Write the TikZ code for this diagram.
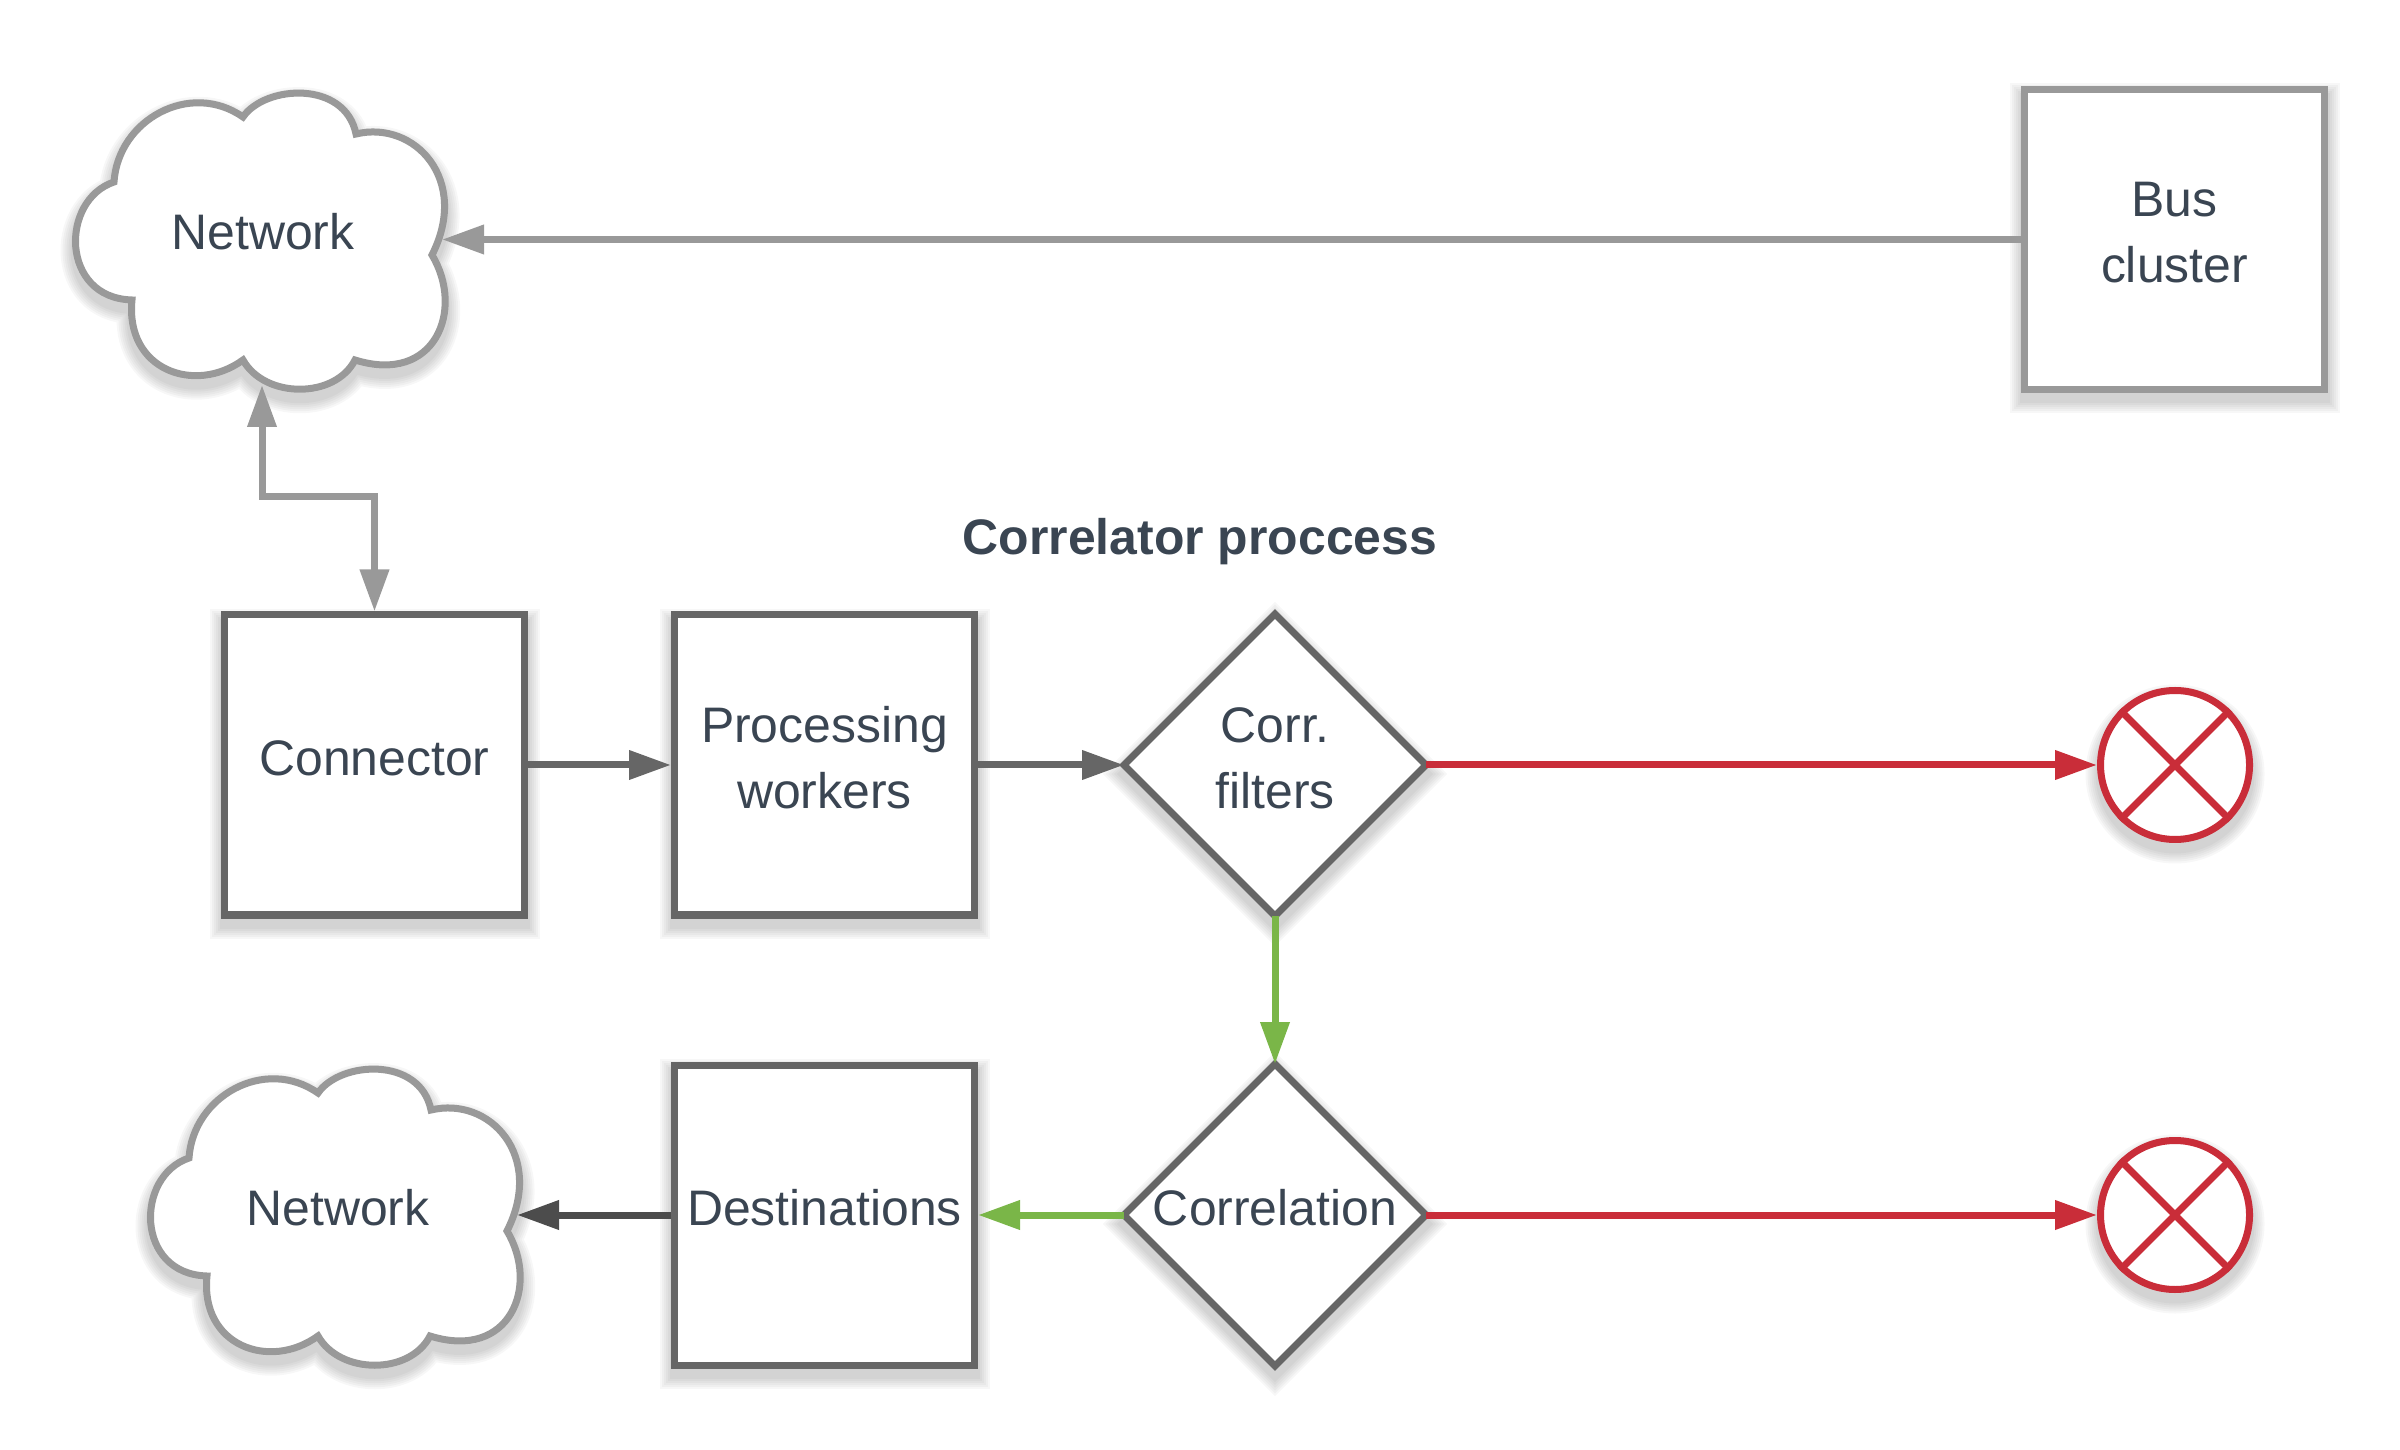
\documentclass[tikz,border=0pt]{standalone}
\usepackage{fontspec}
\setmainfont{Liberation Sans}
\usetikzlibrary{arrows.meta,shapes.geometric}
\definecolor{ink}{RGB}{58,69,82}
\definecolor{slate}{RGB}{102,102,102}
\definecolor{ash}{RGB}{153,153,153}
\definecolor{coal}{RGB}{76,76,76}
\definecolor{alarm}{RGB}{201,45,57}
\definecolor{pass}{RGB}{122,182,72}
\newcommand{\boxtext}[1]{\raisebox{.03cm}[\height][\depth]{\begin{tabular}{@{}c@{}}#1\end{tabular}}}
\newcommand{\slimtext}[1]{\makebox[0pt]{\boxtext{#1}}}
\tikzset{
  shadelayer/.style={preaction={draw=black,opacity=.03,line width=#1,transform canvas={yshift=-.09cm}}},
  softshadow/.style={shadelayer=.30cm,shadelayer=.26cm,shadelayer=.22cm,shadelayer=.18cm,shadelayer=.14cm,
    shadelayer=.10cm},
  labeltext/.style={font=\fontsize{14.2}{18.7}\selectfont,text=ink},
  blockbox/.style={draw=#1,fill=white,line width=.07cm,minimum width=3cm,minimum height=3cm,
    inner sep=0pt,labeltext,softshadow},
  choicebox/.style={diamond,aspect=1,draw=slate,fill=white,line width=.07cm,minimum width=3.02cm,
    minimum height=3.02cm,inner sep=0pt,outer sep=0pt,labeltext,softshadow},
  stopdot/.style={circle,draw=alarm,fill=white,line width=.07cm,minimum size=1.49cm,softshadow},
  flow/.style={draw=#1,line width=.07cm,-{Triangle[length=.42cm,width=.28cm]}},
  pics/netcloud/.style={code={
    \draw[draw=ash,fill=white,line width=.07cm,softshadow]
      (-1.49,.50) .. controls (-1.45,1.12) and (-.73,1.52) .. (-.20,1.15)
      .. controls (.02,1.47) and (.82,1.52) .. (.93,.98)
      .. controls (1.52,1.12) and (2.07,.52) .. (1.69,-.23)
      .. controls (2.02,-.78) and (1.72,-1.53) .. (.92,-1.28)
      .. controls (.72,-1.67) and (.02,-1.67) .. (-.20,-1.28)
      .. controls (-.68,-1.63) and (-1.38,-1.38) .. (-1.31,-.68)
      .. controls (-2.03,-.66) and (-2.03,.32) .. (-1.49,.50) -- cycle;
  }}
}
\begin{document}
\begin{tikzpicture}
  \useasboundingbox (0,0) rectangle (24,14.49);
  \pic at (2.63,12.17) {netcloud};
  \pic at (3.38,2.41) {netcloud};
  \node[labeltext] (neta) at (2.63,12.17) {Network};
  \node[labeltext] (netb) at (3.38,2.41) {Network};
  \coordinate (netaeast) at (4.42,12.095);
  \coordinate (netasouth) at (2.62,10.64);
  \coordinate (netbeast) at (5.17,2.34);
  \coordinate (bend) at (3.2,9.52);
  \node[blockbox=ash] (bus) at (21.745,12.095) {\boxtext{Bus\\cluster}};
  \node[blockbox=slate] (connector) at (3.745,6.84) {\boxtext{Connector}};
  \node[blockbox=slate] (workers) at (8.245,6.84) {\boxtext{Processing\\workers}};
  \node[blockbox=slate] (dest) at (8.245,2.34) {\boxtext{Destinations}};
  \node[choicebox] (filters) at (12.75,6.84) {\boxtext{Corr.\\filters}};
  \node[choicebox] (corr) at (12.75,2.34) {\slimtext{Correlation}};
  \node[stopdot] (stopa) at (21.75,6.84) {};
  \node[stopdot] (stopb) at (21.75,2.34) {};
  \node[labeltext,font=\fontsize{14.2}{18.7}\selectfont\bfseries] (title) at (12,9.07) {Correlator proccess};
  \draw[alarm,line width=.07cm] (stopa.north west) -- (stopa.south east);
  \draw[alarm,line width=.07cm] (stopa.north east) -- (stopa.south west);
  \draw[alarm,line width=.07cm] (stopb.north west) -- (stopb.south east);
  \draw[alarm,line width=.07cm] (stopb.north east) -- (stopb.south west);
  \draw[flow=ash] (bus.west) -- (netaeast);
  \draw[flow=ash,{Triangle[length=.42cm,width=.28cm]}-{Triangle[length=.42cm,width=.28cm]}]
    (netasouth) |- (bend) -| (connector.north);
  \draw[flow=slate] (connector.east) -- (workers.west);
  \draw[flow=slate] (workers.east) -- (filters.west);
  \draw[flow=alarm] (filters.east) -- (stopa.west);
  \draw[flow=pass] (filters.south) -- (corr.north);
  \draw[flow=alarm] (corr.east) -- (stopb.west);
  \draw[flow=pass] (corr.west) -- (dest.east);
  \draw[flow=coal] (dest.west) -- (netbeast);
\end{tikzpicture}
\end{document}
